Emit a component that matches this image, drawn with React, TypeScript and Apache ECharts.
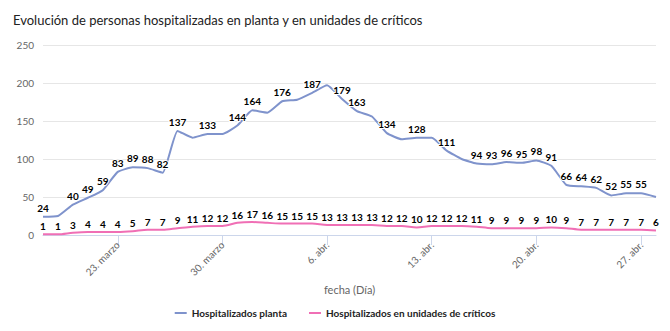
import React, { useEffect, useRef } from "react";
import * as echarts from "echarts";

const categories = [
  "18. marzo", "19. marzo", "20. marzo", "21. marzo", "22. marzo", "23. marzo", "24. marzo",
  "25. marzo", "26. marzo", "27. marzo", "28. marzo", "29. marzo", "30. marzo", "31. marzo",
  "1. abr.", "2. abr.", "3. abr.", "4. abr.", "5. abr.", "6. abr.", "7. abr.",
  "8. abr.", "9. abr.", "10. abr.", "11. abr.", "12. abr.", "13. abr.", "14. abr.",
  "15. abr.", "16. abr.", "17. abr.", "18. abr.", "19. abr.", "20. abr.", "21. abr.",
  "22. abr.", "23. abr.", "24. abr.", "25. abr.", "26. abr.", "27. abr.", "28. abr.",
];

const planta = [
  24, 25, 40, 49, 59, 83, 89, 88, 82, 137, 128, 133, 133, 144,
  164, 161, 176, 178, 187, 197, 179, 163, 156, 134, 126, 128, 128, 111,
  100, 94, 93, 96, 95, 98, 91, 66, 64, 62, 52, 55, 55, 50,
];

const criticos = [
  1, 1, 3, 4, 4, 4, 5, 7, 7, 9, 11, 12, 12, 16,
  17, 16, 15, 15, 15, 13, 13, 13, 13, 12, 12, 10, 12, 12,
  12, 11, 9, 9, 9, 9, 10, 9, 7, 7, 7, 7, 7, 6,
];

const plantaHiddenLabels = [
  "19. marzo", "28. marzo", "30. marzo", "2. abr.", "4. abr.", "6. abr.",
  "9. abr.", "11. abr.", "13. abr.", "15. abr.", "28. abr.",
];

const yTicks = [0, 50, 100, 150, 200, 250];

const FONT = "Lato, 'Open Sans', sans-serif";

export default function App() {
  const ref = useRef<HTMLDivElement>(null);

  useEffect(() => {
    if (!ref.current) return;
    const chart = echarts.init(ref.current, undefined, { renderer: "svg" });
    const tickShown = (i: number) => i % 7 === 5;
    const labelStyle = {
      show: true,
      position: "top" as const,
      distance: 4,
      fontFamily: FONT,
      fontSize: 10,
      fontWeight: "bold" as const,
      color: "#000",
      textBorderColor: "#fff",
      textBorderWidth: 2,
    };
    const plantaData = planta.map((v, i) =>
      plantaHiddenLabels.includes(categories[i]) ? { value: v, label: { show: false } } : v
    );
    chart.setOption({
      animation: false,
      textStyle: { fontFamily: FONT },
      title: {
        text: "Evolución de personas hospitalizadas en planta y en unidades de críticos",
        left: 8,
        top: 8,
        textStyle: { fontFamily: FONT, fontSize: 13, fontWeight: "normal", color: "#222" },
      },
      legend: {
        bottom: 8,
        left: "center",
        icon: "rect",
        itemWidth: 12,
        itemHeight: 2,
        itemGap: 22,
        textStyle: { fontFamily: FONT, fontSize: 10, fontWeight: "bold", color: "#222" },
        data: ["Hospitalizados planta", "Hospitalizados en unidades de críticos"],
      },
      grid: { left: 43, right: 14, top: 45, bottom: 96, containLabel: false },
      xAxis: {
        type: "category",
        data: categories,
        boundaryGap: false,
        name: "fecha (Día)",
        nameLocation: "middle",
        nameGap: 45,
        nameTextStyle: { fontFamily: FONT, fontSize: 11, color: "#666" },
        axisLine: { lineStyle: { color: "#ccd6eb" } },
        axisTick: { interval: tickShown, length: 10, lineStyle: { color: "#ccd6eb" } },
        axisLabel: {
          interval: tickShown,
          rotate: 45,
          fontFamily: FONT,
          fontSize: 10,
          color: "#666",
          margin: 8,
        },
        splitLine: { show: false },
      },
      yAxis: {
        type: "value",
        min: yTicks[0],
        max: yTicks[yTicks.length - 1],
        interval: 50,
        axisLine: { show: false },
        axisTick: { show: false },
        axisLabel: { fontFamily: FONT, fontSize: 10, color: "#666", margin: 9 },
        splitLine: { lineStyle: { color: "#e6e6e6" } },
      },
      series: [
        {
          name: "Hospitalizados planta",
          type: "line",
          data: plantaData,
          smooth: 0.15,
          symbol: "circle",
          symbolSize: 0.1,
          lineStyle: { color: "#7f93cc", width: 2 },
          itemStyle: { color: "#7f93cc" },
          label: labelStyle,
          emphasis: { disabled: true },
          z: 3,
        },
        {
          name: "Hospitalizados en unidades de críticos",
          type: "line",
          data: criticos,
          smooth: 0.3,
          symbol: "circle",
          symbolSize: 0.1,
          lineStyle: { color: "#f06fb5", width: 2 },
          itemStyle: { color: "#f06fb5" },
          label: { ...labelStyle, distance: 3 },
          emphasis: { disabled: true },
          z: 2,
        },
      ],
    });
    return () => chart.dispose();
  }, []);

  return (
    <div
      ref={ref}
      style={{ position: "fixed", left: 0, top: 0, width: 670, height: 331, background: "#fff" }}
    />
  );
}
